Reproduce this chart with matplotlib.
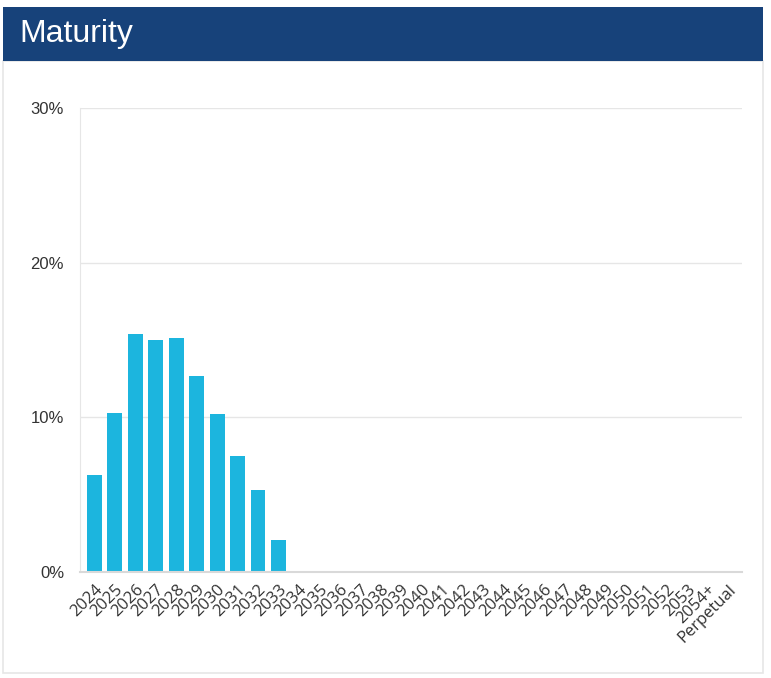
import matplotlib.pyplot as plt
from matplotlib.patches import Rectangle

categories = [str(y) for y in range(2024, 2054)] + ["2054+", "Perpetual"]
weights = [6.3, 10.3, 15.4, 15.0, 15.1, 12.7, 10.2, 7.5, 5.3, 2.1] + [0.0] * 22
y_ticks = [0, 10, 20, 30]
title = "Maturity"

W, H = 771, 678
fig = plt.figure(figsize=(W / 100, H / 100), dpi=100)
fig.patch.set_facecolor("white")

# card border and header band (kept behind the axes)
fig.patches.append(Rectangle((3 / W, 5 / H), 760 / W, 612 / H, transform=fig.transFigure,
                             facecolor="none", edgecolor="#e6e6e6", linewidth=1.2,
                             zorder=-1))
fig.patches.append(Rectangle((3 / W, 1 - 61 / H), 760 / W, 54 / H, transform=fig.transFigure,
                             facecolor="#17427a", edgecolor="none", zorder=-1))
fig.text(19 / W, 1 - 34 / H, title, color="white", fontsize=23,
         family="Liberation Sans", va="center", ha="left")

ax = fig.add_axes([80 / W, 1 - 572 / H, 662 / W, 464 / H])
ax.set_facecolor("none")
x = list(range(len(categories)))
ax.bar(x, weights, width=0.73, color="#1cb5de", zorder=2)

ax.set_xlim(-0.71, 31.68)
ax.set_ylim(0, 30)
ax.set_yticks(y_ticks)
ax.set_yticklabels([f"{v}%" for v in y_ticks], family="Liberation Sans",
                   fontsize=12, color="#333333")
ax.set_xticks(x)
ax.set_xticklabels(categories, rotation=45, ha="right", rotation_mode="anchor",
                   family="Open Sans", fontsize=12, color="#333333")
ax.tick_params(axis="both", length=0)
ax.tick_params(axis="y", pad=11.5)
ax.tick_params(axis="x", pad=7)
ax.grid(axis="y", color="#e6e6e6", linewidth=1, zorder=0)

for side in ["top", "right"]:
    ax.spines[side].set_visible(False)
ax.spines["left"].set_color("#e6e6e6")
ax.spines["bottom"].set_color("#d9d9d9")
ax.spines["bottom"].set_linewidth(1.5)

fig.savefig("out.png", dpi=100)
